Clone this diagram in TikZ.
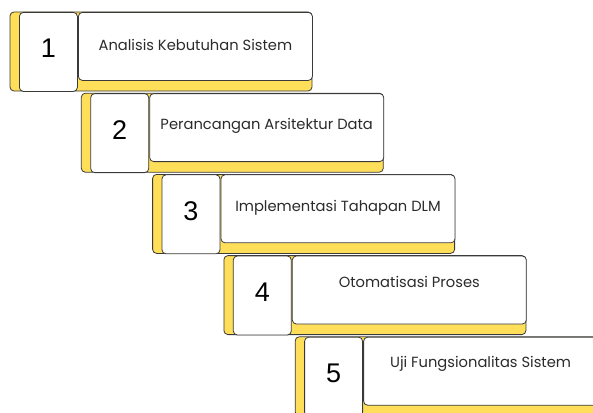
\documentclass[tikz,border=0pt]{standalone}
\usepackage{fontspec}
\setmainfont{Poppins}
\newfontfamily\numfont{Liberation Sans}
\usetikzlibrary{calc}

\definecolor{stepyellow}{HTML}{FFDE59}
\definecolor{edgegray}{HTML}{3A3A3A}
\definecolor{labelgray}{HTML}{2B2B2B}

\tikzset{
  back/.style={draw=edgegray, fill=stepyellow, line width=0.8pt, rounded corners=4pt},
  numbox/.style={draw=edgegray, fill=white, line width=0.8pt, rounded corners=4pt,
    anchor=north west, inner sep=0, minimum width=58pt, minimum height=79pt},
  textbox/.style={draw=edgegray, fill=white, line width=0.8pt, rounded corners=4pt,
    anchor=north west, inner sep=0, minimum width=234pt, minimum height=68pt},
  numlabel/.style={inner sep=0, font=\numfont\fontsize{27}{30}\selectfont},
  steplabel/.style={inner sep=0, text=labelgray, font=\fontsize{14.7}{17}\selectfont}
}

\begin{document}
\begin{tikzpicture}[x=1pt, y=-1pt]
\useasboundingbox (0,0) rectangle (593,412);
\clip (0,0) rectangle (593,412);
\fill[white] (0,0) rectangle (593,412);
% each step: yellow backing, number box, text box
\foreach \n/\txt/\dy [count=\i from 0] in {1/Analisis Kebutuhan Sistem/33,
    2/Perancangan Arsitektur Data/33, 3/Implementasi Tahapan DLM/33,
    4/Otomatisasi Proses/26, 5/Uji Fungsionalitas Sistem/27} {
  \pgfmathsetmacro\xo{10+71.3*\i}
  \pgfmathsetmacro\yo{12+81.2*\i}
  \draw[back] (\xo,\yo) rectangle ++(302,79);
  \node[numbox] (n\n) at (\xo+9,\yo) {};
  \node[textbox] (t\n) at (\xo+68,\yo) {};
  \node[numlabel] (d\n) at ($(n\n.center)+(0,-3.5)$) {\n};
  \node[steplabel] (l\n) at ($(t\n.north)+(0,\dy)$) {\txt};
}
\end{tikzpicture}
\end{document}
